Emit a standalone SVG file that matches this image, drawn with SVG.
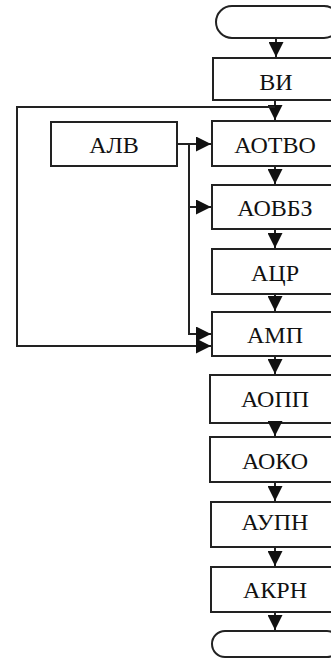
<svg xmlns="http://www.w3.org/2000/svg" width="331" height="662" viewBox="0 0 331 662">
<style>
.b{fill:#fff;stroke:#222;stroke-width:2}
.t{font-family:'Liberation Serif','DejaVu Serif',serif;font-size:24px;fill:#111;text-anchor:middle}
.c{fill:none;stroke:#222;stroke-width:2}
</style>
<defs>
<marker id="ah" markerUnits="userSpaceOnUse" markerWidth="15" markerHeight="15" refX="14" refY="7" orient="auto" viewBox="0 0 14 14">
<path d="M0,0 L14,7 L0,14 Z" fill="#111"/>
</marker>
</defs>
<rect width="331" height="662" fill="#fff"/>
<g id="start"><rect class="b" x="216" y="6" width="124" height="32" rx="16"/></g>
<g id="vi"><rect class="b" x="213" y="58" width="126" height="42"/><text class="t" x="276" y="90">ВИ</text></g>
<g id="alv"><rect class="b" x="51" y="122" width="126" height="44"/><text class="t" x="114" y="153">АЛВ</text></g>
<g id="aotvo"><rect class="b" x="212" y="121" width="127" height="45"/><text class="t" x="275" y="153">АОТВО</text></g>
<g id="aovbz"><rect class="b" x="212" y="185" width="127" height="44"/><text class="t" x="275" y="216">АОВБЗ</text></g>
<g id="acr"><rect class="b" x="212" y="249" width="127" height="45"/><text class="t" x="275" y="281">АЦР</text></g>
<g id="amp"><rect class="b" x="212" y="312" width="127" height="44"/><text class="t" x="275" y="343">АМП</text></g>
<g id="aopp"><rect class="b" x="210" y="375" width="129" height="48"/><text class="t" x="275" y="407">АОПП</text></g>
<g id="aoko"><rect class="b" x="210" y="437" width="129" height="45"/><text class="t" x="275" y="469">АОКО</text></g>
<g id="aupn"><rect class="b" x="211" y="502" width="128" height="45"/><text class="t" x="275" y="530">АУПН</text></g>
<g id="akrn"><rect class="b" x="211" y="567" width="128" height="45"/><text class="t" x="275" y="598">АКРН</text></g>
<g id="end"><rect class="b" x="212" y="631" width="128" height="26" rx="13"/></g>
<g id="connectors">
<path class="c" d="M276 38 V57" marker-end="url(#ah)"/>
<path class="c" d="M275 100 V120" marker-end="url(#ah)"/>
<path class="c" d="M275 107 H17 V346 H211" marker-end="url(#ah)"/>
<path class="c" d="M177 144 H211" marker-end="url(#ah)"/>
<path class="c" d="M189 144 V335"/>
<path class="c" d="M189 207 H211" marker-end="url(#ah)"/>
<path class="c" d="M189 334 H211" marker-end="url(#ah)"/>
<path class="c" d="M275 166 V184" marker-end="url(#ah)"/>
<path class="c" d="M275 229 V248" marker-end="url(#ah)"/>
<path class="c" d="M275 294 V311" marker-end="url(#ah)"/>
<path class="c" d="M275 356 V374" marker-end="url(#ah)"/>
<path class="c" d="M275 423 V436" marker-end="url(#ah)"/>
<path class="c" d="M275 482 V501" marker-end="url(#ah)"/>
<path class="c" d="M275 547 V566" marker-end="url(#ah)"/>
<path class="c" d="M275 612 V630" marker-end="url(#ah)"/>
</g>
</svg>
